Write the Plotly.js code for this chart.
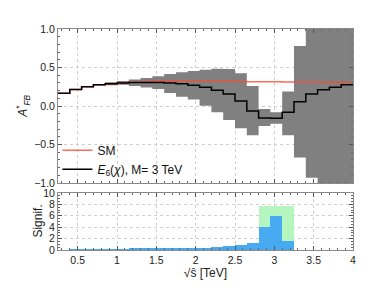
<!DOCTYPE html>
<html>
<head>
<meta charset="utf-8">
<script src="https://cdn.plot.ly/plotly-3.0.1.min.js"></script>
<style>html,body{margin:0;padding:0;background:#fff;}</style>
</head>
<body>
<div id="chart" style="width:392px;height:294px;"></div>
<script>
// Bin edges in sqrt(s) [TeV]
const binEdges = [0.25,0.40,0.55,0.70,0.85,1.00,1.15,1.30,1.45,1.60,1.75,1.90,2.05,2.20,2.35,2.50,2.65,2.80,2.95,3.10,3.25,3.40,3.55,3.70,3.85,4.00];
// A*_FB for SM
const smAfb = [0.165,0.215,0.25,0.275,0.29,0.30,0.31,0.315,0.32,0.32,0.322,0.322,0.322,0.32,0.32,0.318,0.316,0.315,0.314,0.313,0.312,0.311,0.31,0.31,0.31];
// A*_FB for E6(chi), M = 3 TeV
const e6Afb = [0.165,0.215,0.25,0.275,0.29,0.30,0.305,0.305,0.305,0.30,0.29,0.27,0.245,0.205,0.155,0.065,-0.065,-0.155,-0.16,-0.08,0.055,0.155,0.21,0.245,0.275];
// uncertainty band of E6 (upper / lower edges)
const bandUpper = [0.168,0.218,0.253,0.279,0.31,0.325,0.345,0.365,0.385,0.415,0.44,0.455,0.47,0.483,0.48,0.427,0.26,-0.04,-0.08,0.19,0.78,1.5,1.5,1.5,1.5];
const bandLower = [0.162,0.212,0.247,0.271,0.27,0.275,0.26,0.24,0.22,0.17,0.12,0.085,0.005,-0.08,-0.18,-0.29,-0.38,-0.26,-0.23,-0.38,-0.67,-0.93,-1.5,-1.5,-1.5];
// significance
const signifBlue = [0.05,0.25,0.25,0.25,0.25,0.25,0.27,0.28,0.3,0.3,0.32,0.35,0.4,0.48,0.67,0.85,1.27,4.0,6.0,1.5,0,0,0,0,0];
const signifGreen = [0,0,0,0,0,0,0,0,0,0,0,0,0,0,0,0,0,7.7,7.7,7.7,0,0,0,0,0];
const xTicks = [0.5,1,1.5,2,2.5,3,3.5,4];
const xTickText = ['0.5','1','1.5','2','2.5','3','3.5','4'];

function stepY(v){ return v.concat([v[v.length-1]]); }
const centers = binEdges.slice(0,-1).map((e,i)=> (e+binEdges[i+1])/2);
const widths = binEdges.slice(0,-1).map((e,i)=> binEdges[i+1]-e);

const FONT = 'Liberation Sans, Arial, sans-serif';

const traces = [
  {x: binEdges, y: stepY(bandLower), type:'scatter', mode:'lines', line:{shape:'hv', width:0, color:'#808080'}, showlegend:false, hoverinfo:'skip', xaxis:'x', yaxis:'y'},
  {x: binEdges, y: stepY(bandUpper), type:'scatter', mode:'lines', line:{shape:'hv', width:0, color:'#808080'}, fill:'tonexty', fillcolor:'#808080', showlegend:false, hoverinfo:'skip', xaxis:'x', yaxis:'y'},
  {x: binEdges, y: stepY(smAfb), type:'scatter', mode:'lines', name:'SM', line:{shape:'hv', width:1.5, color:'rgba(255,70,50,0.8)'}, xaxis:'x', yaxis:'y'},
  {x: binEdges, y: stepY(e6Afb), type:'scatter', mode:'lines', name:'<i>E</i><sub>6</sub>(<i>χ</i>), M= 3 TeV', line:{shape:'hv', width:1.5, color:'#000'}, xaxis:'x', yaxis:'y'},
  {x: centers, y: signifGreen, width: widths, type:'bar', marker:{color:'#b4f5c0', line:{width:0}}, showlegend:false, xaxis:'x2', yaxis:'y2'},
  {x: centers, y: signifBlue, width: widths, type:'bar', marker:{color:'#48aaf0', line:{width:0}}, showlegend:false, xaxis:'x2', yaxis:'y2'}
];

const axBase = {
  showline:true, linecolor:'#8a8a8a', linewidth:1, mirror:'allticks',
  ticks:'inside', ticklen:4, tickcolor:'#555', tickwidth:1,
  showgrid:true, gridcolor:'#cfcfcf', griddash:'dot', gridwidth:1,
  zeroline:false,
  tickfont:{family:FONT, size:10.5, color:'#222'}
};

const layout = {
  width:392, height:294,
  margin:{l:58, r:39, t:29, b:44},
  paper_bgcolor:'#fff', plot_bgcolor:'#fff',
  font:{family:FONT, size:11, color:'#222'},
  barmode:'overlay', bargap:0,
  showlegend:true,
  legend:{x:-0.002, y:0.30, xanchor:'left', yanchor:'bottom', bgcolor:'rgba(0,0,0,0)', borderwidth:0,
          traceorder:'normal', font:{family:FONT, size:12, color:'#111'}, tracegroupgap:0, itemwidth:30},
  xaxis: Object.assign({}, axBase, {domain:[0,1], anchor:'y', range:[0.25,4], tickvals:xTicks, ticktext:xTickText, showticklabels:false, matches:'x2', minor:{ticks:'inside', ticklen:2, tickcolor:'#666', dtick:0.1, showgrid:false}}),
  yaxis: Object.assign({}, axBase, {domain:[0.303,1], anchor:'x', range:[-1,1], dtick:0.5, tickformat:'.1f',
          minor:{ticks:'inside', ticklen:2, tickcolor:'#666', dtick:0.1, showgrid:false}}),
  xaxis2: Object.assign({}, axBase, {domain:[0,1], anchor:'y2', range:[0.25,4], tickvals:xTicks, ticktext:xTickText,
          minor:{ticks:'inside', ticklen:2, tickcolor:'#666', dtick:0.1, showgrid:false},
          title:{text:'√ŝ [TeV]', font:{family:FONT, size:12, color:'#222'}, standoff:4}}),
  yaxis2: Object.assign({}, axBase, {domain:[0,0.258], anchor:'x2', range:[0,10], dtick:2,
          minor:{ticks:'inside', ticklen:2, tickcolor:'#666', dtick:0.5, showgrid:false}}),
  annotations:[
    {text:'<i>A</i><sup>*</sup><sub><i>FB</i></sub>', xref:'paper', yref:'paper', x:-0.119, y:0.652, xanchor:'center', yanchor:'middle',
     textangle:-90, showarrow:false, font:{family:FONT, size:12, color:'#222'}},
    {text:'Signif.', xref:'paper', yref:'paper', x:-0.066, y:0.131, xanchor:'center', yanchor:'middle',
     textangle:-90, showarrow:false, font:{family:FONT, size:12, color:'#222'}}
  ]
};

Plotly.newPlot('chart', traces, layout, {displayModeBar:false, staticPlot:true});
</script>
</body>
</html>
